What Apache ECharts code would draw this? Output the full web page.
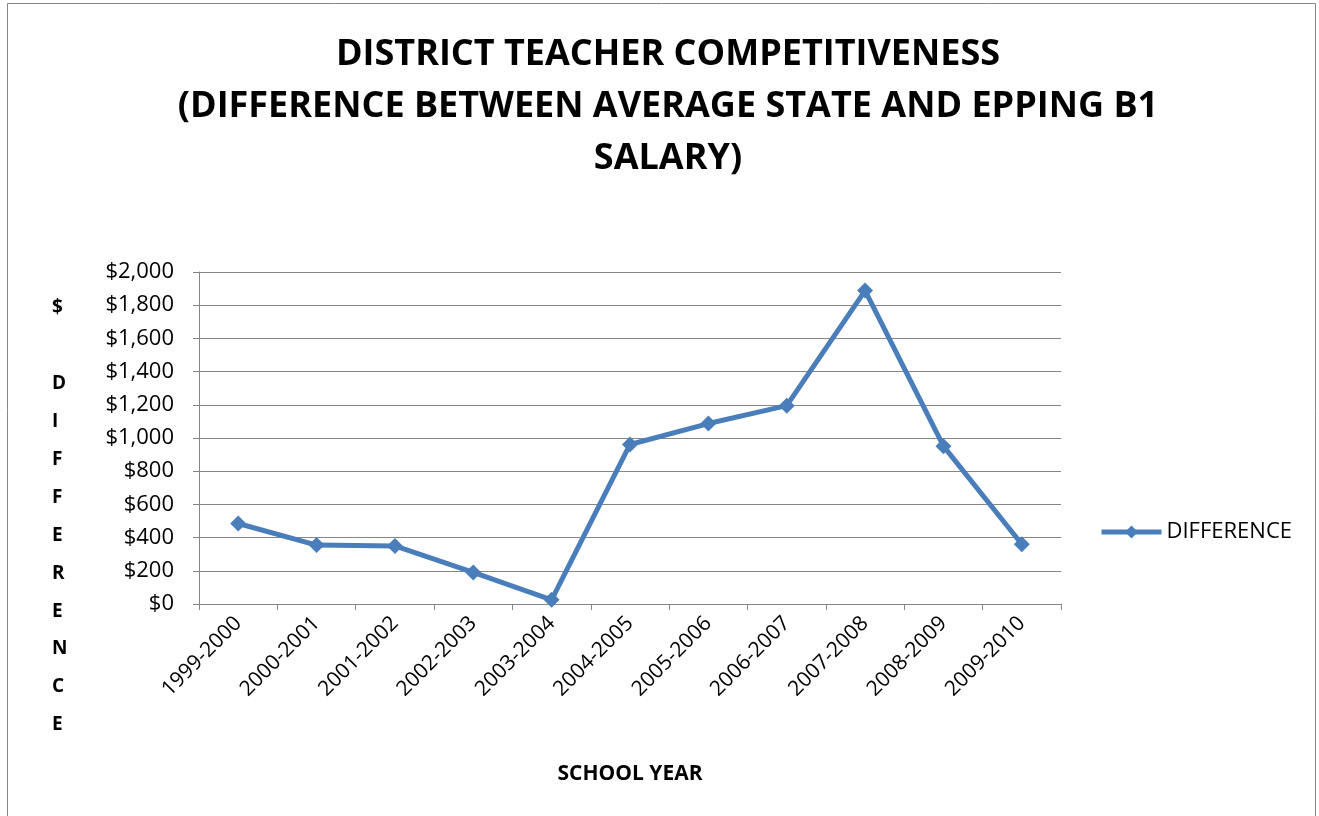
<!DOCTYPE html>
<html><head><meta charset="utf-8">
<script src="https://cdn.jsdelivr.net/npm/echarts@6/dist/echarts.min.js"></script>
<style>html,body{margin:0;padding:0;background:#fff}#c{width:1319px;height:816px}</style>
</head><body><div id="c"></div>
<script>
const categories = ['1999-2000','2000-2001','2001-2002','2002-2003','2003-2004','2004-2005','2005-2006','2006-2007','2007-2008','2008-2009','2009-2010'];
const difference = [485, 355, 350, 190, 25, 961, 1087, 1195, 1888, 951, 360];
const yTicks = {min: 0, max: 2000, interval: 200};
const seriesName = 'DIFFERENCE';
const titleText = 'DISTRICT TEACHER COMPETITIVENESS\n(DIFFERENCE BETWEEN AVERAGE STATE AND EPPING B1\nSALARY)';
const yTitle = '$\n\nD\nI\nF\nF\nE\nR\nE\nN\nC\nE';

const FONT = '"Open Sans", "Noto Sans", sans-serif';
const chart = echarts.init(document.getElementById('c'));
chart.setOption({
  backgroundColor: '#fff',
  animation: false,
  title: {
    text: titleText, left: 663, top: 24, textAlign: 'center',
    textStyle: {fontFamily: FONT, fontWeight: 'bold', fontSize: 36, lineHeight: 52, color: '#000'}
  },
  graphic: [
    {type: 'rect', shape: {x: 7.5, y: 3.5, width: 1308, height: 830}, style: {fill: 'none', stroke: '#868686', lineWidth: 1}, silent: true},
    {type: 'text', left: 52, top: 289, style: {text: yTitle, fontFamily: FONT, fontWeight: 'bold', fontSize: 19, lineHeight: 37.9, fill: '#000', align: 'center'}}
  ],
  legend: {
    data: [seriesName], left: 1094, top: 516, itemWidth: 60, itemHeight: 16, itemGap: 0,
    lineStyle: {width: 5},
    textStyle: {fontFamily: FONT, fontSize: 22, color: '#000', padding: [0,0,0,0]}
  },
  grid: {left: 199, right: 258, top: 272, bottom: 212, containLabel: false},
  xAxis: {
    type: 'category', data: categories, boundaryGap: true,
    name: 'SCHOOL YEAR', nameLocation: 'middle', nameGap: 160,
    nameTextStyle: {fontFamily: FONT, fontWeight: 'bold', fontSize: 21, color: '#000'},
    axisLine: {lineStyle: {color: '#868686', width: 1}},
    axisTick: {show: true, alignWithLabel: false, length: 6, lineStyle: {color: '#868686'}},
    axisLabel: {rotate: 45, interval: 0, margin: 16, fontFamily: FONT, fontSize: 21, color: '#000'},
    splitLine: {show: false}
  },
  yAxis: {
    type: 'value', min: yTicks.min, max: yTicks.max, interval: yTicks.interval,
    axisLine: {show: true, lineStyle: {color: '#868686', width: 1}},
    axisTick: {show: true, length: 6, lineStyle: {color: '#868686'}},
    axisLabel: {margin: 25, fontFamily: FONT, fontSize: 22, color: '#000',
      formatter: v => '$' + v.toLocaleString('en-US')},
    splitLine: {show: true, lineStyle: {color: '#868686', width: 1}}
  },
  series: [{
    name: seriesName, type: 'line', data: difference,
    symbol: 'diamond', symbolSize: 16, showAllSymbol: true,
    lineStyle: {color: '#4a7ebb', width: 5},
    itemStyle: {color: '#4a7ebb'}
  }]
});
</script></body></html>
